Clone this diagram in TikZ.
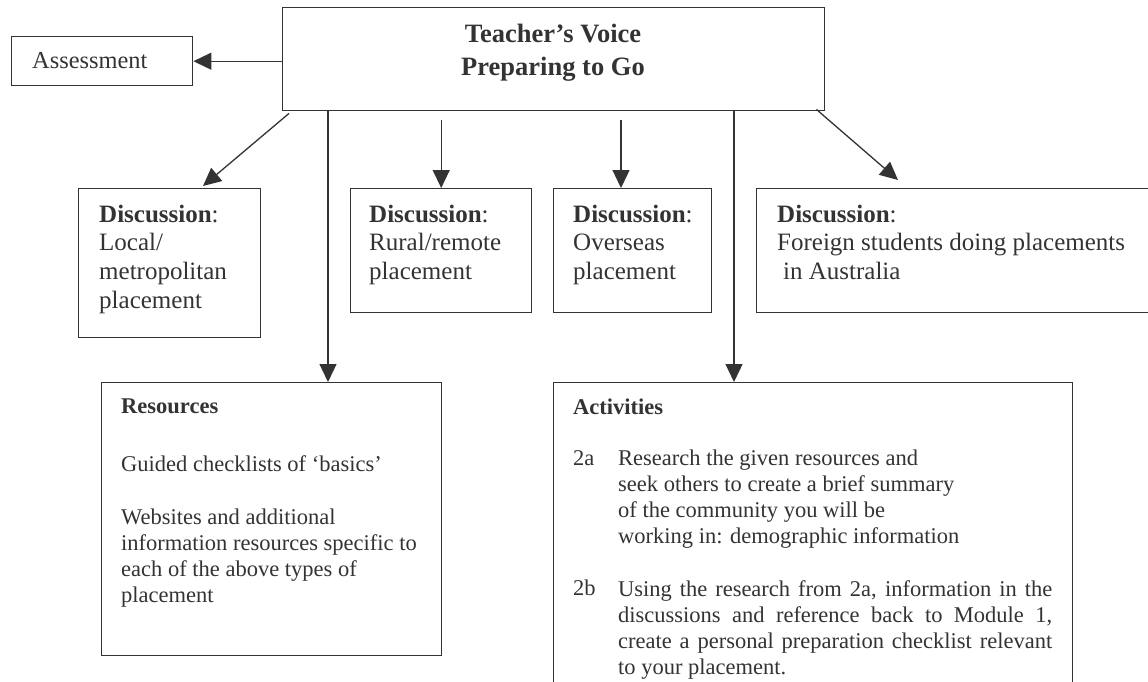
\documentclass[tikz,border=0pt]{standalone}
\usepackage{fontspec}
\setmainfont{Liberation Serif}
\usetikzlibrary{arrows.meta,calc}
\definecolor{ink}{HTML}{333333}
\begin{document}
\begin{tikzpicture}[x=1pt,y=-1pt,
  box/.style={draw=ink,line width=1.4pt,rectangle,inner sep=0pt,anchor=north west},
  txt/.style={text=ink,inner sep=0pt,anchor=north west,align=left},
  arr/.style={draw=ink,line width=1.3pt,-{Triangle[length=18pt,width=17pt]}},
  big/.style={font=\fontsize{25}{28.7}\selectfont},
  small/.style={font=\fontsize{22.5}{26}\selectfont},
  smallbf/.style={font=\bfseries\fontsize{22.5}{26}\selectfont},
]
\useasboundingbox (0,0) rectangle (1148,681);
\clip (0,0) rectangle (1148,681);

% boxes
\node[box,minimum width=181pt,minimum height=49pt]  (assess)     at (11,36)  {};
\node[box,minimum width=542pt,minimum height=103pt] (main)       at (282,7)  {};
\node[box,minimum width=182pt,minimum height=149pt] (local)      at (78,188) {};
\node[box,minimum width=181pt,minimum height=124pt] (rural)      at (350,188) {};
\node[box,minimum width=158pt,minimum height=124pt] (overseas)   at (553,188) {};
\node[box,minimum width=400pt,minimum height=124pt] (foreign)    at (756,188) {};
\node[box,minimum width=340pt,minimum height=273pt] (resources)  at (101,382) {};
\node[box,minimum width=519pt,minimum height=330pt] (activities) at (553,382) {};

% texts
\node[txt,font=\fontsize{24.4}{28}\selectfont,anchor=west] (assesst) at (32,61) {Assessment};
\node[txt,anchor=center,align=center,font=\bfseries\fontsize{26.5}{33}\selectfont] (title) at (553,53)
  {Teacher’s Voice\\Preparing to Go};
\node[txt,big] (localt) at (99,204.5)
  {\textbf{Discussion}:\\Local/\\metropolitan\\placement};
\node[txt,big] (ruralt) at (369,204.5)
  {\textbf{Discussion}:\\Rural/remote\\placement};
\node[txt,big] (overseast) at (573,204.5)
  {\textbf{Discussion}:\\Overseas\\placement};
\node[txt,big] (foreignt) at (777,204.5)
  {\textbf{Discussion}:\\Foreign students doing placements\\\hspace*{6pt}in Australia};

\node[txt,smallbf] (reshead) at (121,399) {Resources};
\node[txt,small] (resp1) at (121,455) {Guided checklists of ‘basics’};
\node[txt,small] (resp2) at (121,509)
  {Websites and additional\\information resources specific to\\each of the above types of\\placement};

\node[txt,smallbf] (acthead) at (573,399) {Activities};
\node[txt,small] (lab2a) at (573,450) {2a};
\node[txt,small] (act2a) at (618,450)
  {Research the given resources and\\seek others to create a brief summary\\of the community you will be\\working in: demographic information};
\node[txt,small] (lab2b) at (573,580) {2b};
\node[txt,small,text width=434pt,align=justify] (act2b) at (618,580)
  {Using the research from 2a, information in the\linebreak
   discussions and reference back to Module 1,\linebreak
   create a personal preparation checklist relevant\linebreak
   to your placement.};

% connectors
\coordinate (rtip) at ($(resources.north west)+(227,0)$);
\coordinate (atip) at ($(activities.north west)+(181,0)$);
\draw[arr] (main.west |- assess.east) -- (assess.east);
\draw[arr] ($(main.south west)+(7,2)$) -- ($(local.north west)+(125,-2)$);
\draw[arr] (main.south -| rtip) -- (rtip);
\draw[arr] ($(rural.north)+(0,-68)$) -- (rural.north);
\draw[arr] ($(overseas.north west)+(68,-68)$) -- ($(overseas.north west)+(68,0)$);
\draw[arr] (main.south -| atip) -- (atip);
\draw[arr] ($(main.south east)+(-9,-2)$) -- ($(foreign.north west)+(142,-8)$);
\end{tikzpicture}
\end{document}
